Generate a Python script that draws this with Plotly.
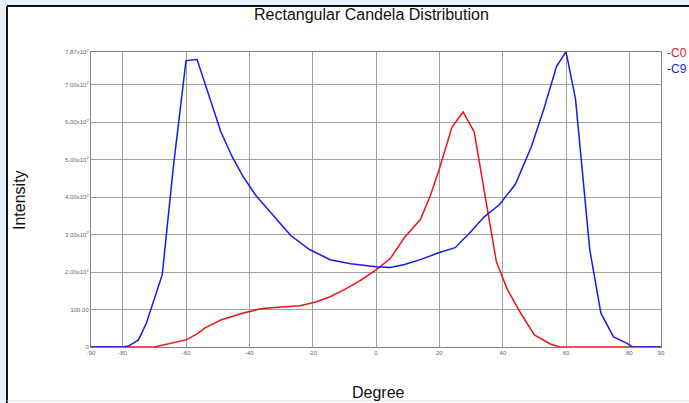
import plotly.graph_objects as go

# Data
deg_c0 = [-90, -80, -70, -60, -56.5, -54, -49, -43, -36.5, -30, -24, -19, -14.5, -10, -5, 0,
          4.5, 9, 14, 17, 20, 24, 27.5, 31, 34, 38, 41.5, 46, 50, 55, 58, 70, 80, 90]
val_c0 = [0, 0, 0, 19, 35, 51, 72, 88, 102, 107, 110, 120, 134, 153, 177, 206,
          236, 292, 340, 400, 475, 587, 627, 574, 421, 228, 153, 86, 32, 8, 0, 0, 0, 0]

deg_c9 = [-90, -80, -78, -75, -72.5, -67.5, -64, -60, -56.5, -53, -49, -45.5, -42, -38, -32, -27,
          -21, -14.5, -8, 0, 4.5, 9, 14, 20, 25, 30, 34, 39, 44, 49, 53, 57, 60, 63,
          67.5, 71, 75, 79, 81, 90]
val_c9 = [0, 0, 3, 19, 64, 193, 480, 764, 767, 676, 574, 509, 455, 405, 346, 298,
          260, 233, 222, 214, 212, 220, 233, 252, 265, 308, 346, 380, 434, 533, 635, 748, 788, 662,
          260, 91, 27, 11, 0, 0]

y_ticks = [0, 100, 200, 300, 400, 500, 600, 700, 787]
y_labels = ["0", "100.00", "2.00x10<sup>2</sup>", "3.00x10<sup>2</sup>", "4.00x10<sup>2</sup>",
            "5.00x10<sup>2</sup>", "6.00x10<sup>2</sup>", "7.00x10<sup>2</sup>", "7.87x10<sup>2</sup>"]
x_ticks = [-90, -80, -60, -40, -20, 0, 20, 40, 60, 80, 90]
x_labels = [str(v) for v in x_ticks]
series_names = ["C0", "C9"]
series_colors = ["#e8161a", "#1a1ae8"]

W, H = 689, 403
L, R, T, B = 91, 661, 52, 347

fig = go.Figure()
fig.add_trace(go.Scatter(x=deg_c0, y=val_c0, mode="lines", name=series_names[0],
                         line=dict(color=series_colors[0], width=1.5)))
fig.add_trace(go.Scatter(x=deg_c9, y=val_c9, mode="lines", name=series_names[1],
                         line=dict(color=series_colors[1], width=1.5)))

def px(xp):
    return (xp - L) / (R - L)

def py(yp):
    return (B - yp) / (B - T)

shapes = [
    dict(type="rect", xref="paper", yref="paper", x0=px(0), x1=px(W), y0=py(0), y1=py(5),
         fillcolor="#e6f2fb", line=dict(width=0), layer="below"),
    dict(type="rect", xref="paper", yref="paper", x0=px(0), x1=px(6), y0=py(0), y1=py(H),
         fillcolor="#e6f2fb", line=dict(width=0), layer="below"),
    dict(type="line", xref="paper", yref="paper", x0=px(7), x1=px(W), y0=py(6), y1=py(6),
         line=dict(color="#111111", width=2)),
    dict(type="line", xref="paper", yref="paper", x0=px(7), x1=px(7), y0=py(6), y1=py(H),
         line=dict(color="#111111", width=2)),
    dict(type="line", xref="paper", yref="paper", x0=px(7), x1=px(W), y0=py(401), y1=py(401),
         line=dict(color="#dddddd", width=1)),
]

annotations = [
    dict(text=f"-{series_names[0]}", x=px(665), y=py(53), xref="paper", yref="paper", xanchor="left",
         yanchor="middle", showarrow=False, font=dict(color=series_colors[0], size=12,
         family="Liberation Sans, Arial")),
    dict(text=f"-{series_names[1]}", x=px(665), y=py(69), xref="paper", yref="paper", xanchor="left",
         yanchor="middle", showarrow=False, font=dict(color=series_colors[1], size=12,
         family="Liberation Sans, Arial")),
    dict(text="Rectangular Candela Distribution", x=px(371), y=py(14), xref="paper", yref="paper",
         xanchor="center", yanchor="middle", showarrow=False,
         font=dict(color="#111111", size=16, family="Liberation Sans, Arial")),
    dict(text="Intensity", x=px(19), y=py(200), xref="paper", yref="paper", textangle=-90,
         xanchor="center", yanchor="middle", showarrow=False,
         font=dict(color="#111111", size=16, family="Liberation Sans, Arial")),
    dict(text="Degree", x=px(378), y=py(392), xref="paper", yref="paper",
         xanchor="center", yanchor="middle", showarrow=False,
         font=dict(color="#111111", size=16, family="Liberation Sans, Arial")),
]

fig.update_layout(
    width=W, height=H,
    margin=dict(l=L, r=W - R, t=T, b=H - B),
    paper_bgcolor="white", plot_bgcolor="white",
    showlegend=False,
    shapes=shapes, annotations=annotations,
    xaxis=dict(range=[-90, 90], tickvals=x_ticks, ticktext=x_labels, showgrid=True,
               gridcolor="#a0a0a0", gridwidth=1, zeroline=False, showline=True, mirror=True,
               linecolor="#808080", linewidth=1, ticks="",
               tickfont=dict(size=6, color="#666666", family="Liberation Sans, Arial")),
    yaxis=dict(range=[0, 787], tickvals=y_ticks, ticktext=y_labels, showgrid=True,
               gridcolor="#a0a0a0", gridwidth=1, zeroline=False, showline=True, mirror=True,
               linecolor="#808080", linewidth=1, ticks="",
               tickfont=dict(size=6, color="#666666", family="Liberation Sans, Arial")),
)

fig.write_html("out.html", config={"displayModeBar": False},
               post_script="document.body.style.margin='0';document.body.style.overflow='hidden';")
